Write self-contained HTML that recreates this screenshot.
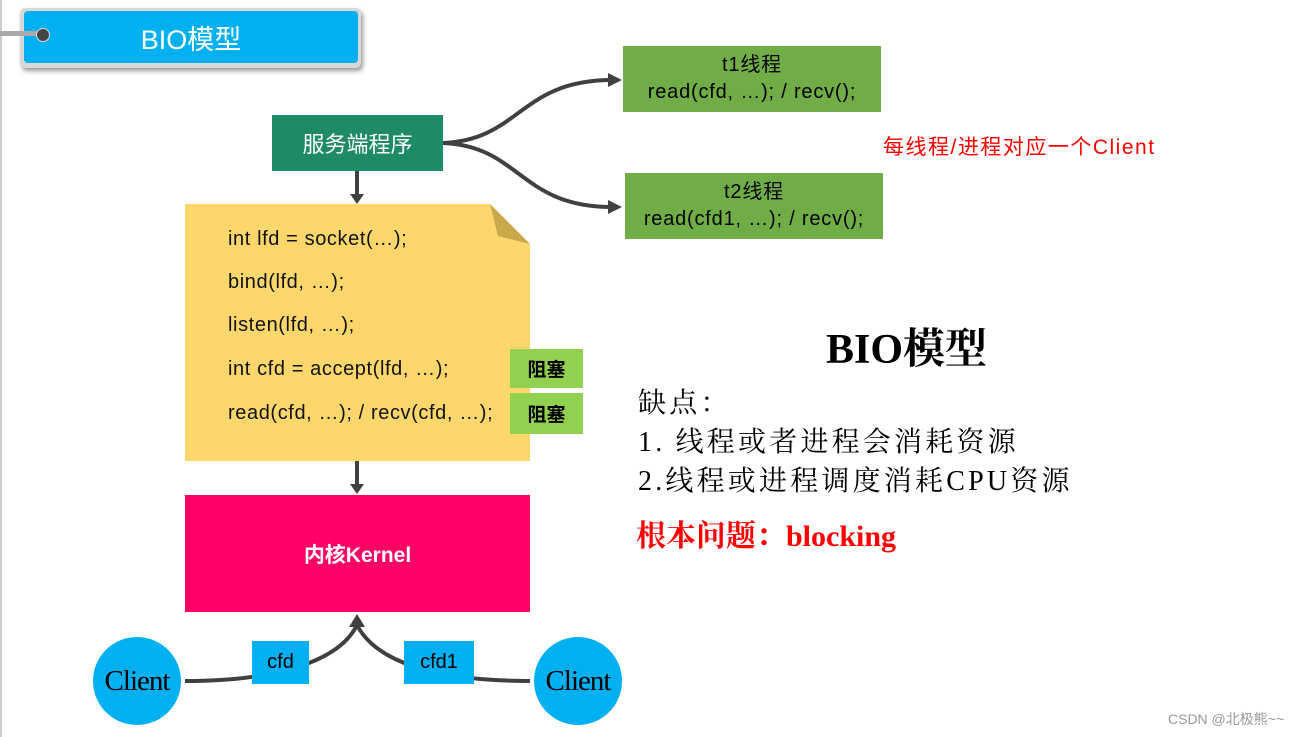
<!DOCTYPE html>
<html><head><meta charset="utf-8"><style>
body{margin:0;width:1316px;height:737px;background:#fff;position:relative;overflow:hidden;font-family:"Liberation Sans","Noto Sans CJK SC",sans-serif}
.a{position:absolute}
.c{display:flex;align-items:center;justify-content:center;text-align:center}
.code{position:absolute;left:228px;font-size:20px;letter-spacing:0.6px;color:#111}
.serif{font-family:"Liberation Serif","Noto Serif CJK SC",serif}
</style></head><body>
<div class="a" style="left:0;top:0;width:2px;height:737px;background:#ccc"></div>
<div class="a" style="left:20px;top:8px;width:341px;height:60px;background:#d8d8d8;border-radius:5px;box-shadow:2px 3px 5px #999"></div>
<div class="a c" style="left:24px;top:11px;width:334px;height:52px;background:#00b0f0;border-radius:4px;color:#fff;font-size:27px">BIO模型</div>
<div class="a" style="left:0;top:31px;width:44px;height:5px;background:#aaa"></div>
<div class="a" style="left:36px;top:28px;width:12px;height:12px;border-radius:50%;background:#444;border:1px solid #ddd"></div>

<svg class="a" style="left:0;top:0" width="1316" height="737">
<g stroke="#404040" stroke-width="4" fill="none">
<path d="M443,143 C520,140 520,80 612,80"/>
<path d="M443,143 C520,146 520,207 612,207"/>
<line x1="357" y1="171" x2="357" y2="196"/>
<line x1="357" y1="461" x2="357" y2="485"/>
<path d="M185,681 C280,681 340,660 357,625"/>
<path d="M530,681 C430,681 375,660 357,625"/>
</g>
<g fill="#404040">
<polygon points="622,80 608,73 608,87"/>
<polygon points="622,207 608,200 608,214"/>
<polygon points="357,204 350,194 364,194"/>
<polygon points="357,494 350,484 364,484"/>
<polygon points="357,614 349,627 365,627"/>
</g>
<polygon points="185,204 490,204 530,244 530,461 185,461" fill="#fdd76b"/>
<polygon points="490,204 530,244 498,236" fill="#c9a94a"/>
</svg>

<div class="a c" style="left:272px;top:115px;width:171px;height:56px;background:#1f8a68;color:#fff;font-size:22px">服务端程序</div>
<div class="code" style="top:228px">int lfd = socket(…);</div>
<div class="code" style="top:271px">bind(lfd, …);</div>
<div class="code" style="top:314px">listen(lfd, …);</div>
<div class="code" style="top:358px">int cfd = accept(lfd, …);</div>
<div class="code" style="top:402px">read(cfd, …); / recv(cfd, …);</div>
<div class="a c" style="left:510px;top:349px;width:73px;height:39px;background:#92d050;font-size:19px;font-weight:bold">阻塞</div>
<div class="a c" style="left:510px;top:393px;width:73px;height:41px;background:#92d050;font-size:19px;font-weight:bold">阻塞</div>
<div class="a c" style="left:185px;top:495px;width:345px;height:117px;background:#ff0066;color:#fff;font-size:21px;font-weight:bold">内核Kernel</div>
<div class="a c serif" style="left:93px;top:637px;width:88px;height:88px;border-radius:50%;background:#00b0f0;font-size:29px;letter-spacing:-1px">Client</div>
<div class="a c serif" style="left:534px;top:637px;width:88px;height:88px;border-radius:50%;background:#00b0f0;font-size:29px;letter-spacing:-1px">Client</div>
<div class="a c" style="left:252px;top:641px;width:57px;height:43px;background:#00b0f0;font-size:20px">cfd</div>
<div class="a c" style="left:404px;top:641px;width:70px;height:43px;background:#00b0f0;font-size:20px">cfd1</div>
<div class="a c" style="left:623px;top:46px;width:258px;height:66px;background:#70ad47;font-size:20px;letter-spacing:0.8px;line-height:27px">t1线程<br>read(cfd, …); / recv();</div>
<div class="a c" style="left:625px;top:173px;width:258px;height:66px;background:#70ad47;font-size:20px;letter-spacing:0.8px;line-height:27px">t2线程<br>read(cfd1, …); / recv();</div>
<div class="a" style="left:883px;top:131px;color:#f00;font-size:21px;letter-spacing:1.5px">每线程/进程对应一个Client</div>
<div class="a serif" style="left:826px;top:316px;font-size:42px;font-weight:bold">BIO模型</div>
<div class="a serif" style="left:638px;top:384px;font-size:28px;line-height:39px;letter-spacing:3.2px">缺点：<br>1. 线程或者进程会消耗资源<br>2.线程或进程调度消耗CPU资源</div>
<div class="a serif" style="left:636px;top:511px;font-size:30px;font-weight:bold;color:#f00">根本问题：blocking</div>
<div class="a" style="left:1168px;top:709px;font-size:14px;color:#999">CSDN @北极熊~~</div>
</body></html>
